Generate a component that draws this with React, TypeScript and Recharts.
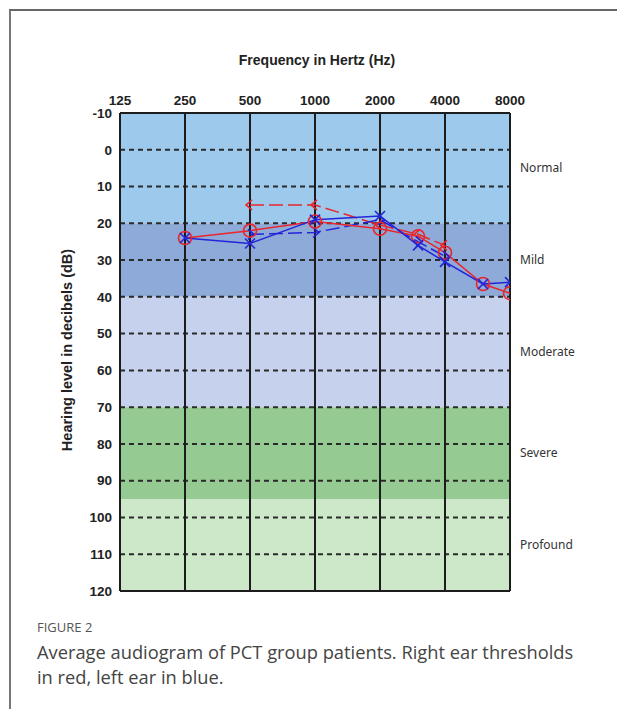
import { LineChart, Line, XAxis, YAxis, ReferenceArea, ReferenceLine } from 'recharts'

// frequencies (Hz) and thresholds (dB HL)
const freqTicks = [125, 250, 500, 1000, 2000, 4000, 8000]
const dbTicks = [-10, 0, 10, 20, 30, 40, 50, 60, 70, 80, 90, 100, 110, 120]
const dashedLevels = [0, 10, 20, 30, 40, 50, 60, 70, 80, 90, 100, 110]

const airFreqs = [250, 500, 1000, 2000, 3000, 4000, 6000, 8000]
const rightAir = [24, 22, 19.5, 21.5, 23.5, 28, 36.5, 39]
const leftAir = [24, 25.5, 19, 18, 26, 30.5, 36.5, 36]

const boneFreqs = [500, 1000, 2000, 3000, 4000]
const rightBone = [15, 15, 20.5, 23, 26]
const leftBone = [23, 22.5, 19, 25, 29]

const zoneNames = ['Normal', 'Mild', 'Moderate', 'Severe', 'Profound']
const zoneFrom = [-10, 20, 40, 70, 95]
const zoneTo = [20, 40, 70, 95, 120]
const zoneColors = ['#9dcaec', '#8eaad9', '#c5d1ed', '#95cb93', '#cce8c8']

const RED = '#e8262c'
const BLUE = '#2424d8'

const toRows = (freqs: number[], vals: number[]) => freqs.map((f, i) => ({ f, db: vals[i] }))

const axisFont = { fontFamily: '"Liberation Sans", Arial, sans-serif', fontWeight: 700, fontSize: 13.5, fill: '#222' }

const Circle = (p: any) => (
    <circle key={p.key} cx={p.cx} cy={p.cy} r={6.5} fill="none" stroke={RED} strokeWidth={1.6} />
)

const Cross = (p: any) => (
    <g key={p.key}>
        <line x1={p.cx - 5} y1={p.cy - 5} x2={p.cx + 5} y2={p.cy + 5} stroke={BLUE} strokeWidth={1.6} />
        <line x1={p.cx - 5} y1={p.cy + 5} x2={p.cx + 5} y2={p.cy - 5} stroke={BLUE} strokeWidth={1.6} />
    </g>
)

const LessThan = (p: any) => (
    <polyline key={p.key} points={`${p.cx + 2},${p.cy - 5} ${p.cx - 4},${p.cy} ${p.cx + 2},${p.cy + 5}`}
        fill="none" stroke={RED} strokeWidth={1.6} />
)

const GreaterThan = (p: any) => (
    <polyline key={p.key} points={`${p.cx - 2},${p.cy - 5} ${p.cx + 4},${p.cy} ${p.cx - 2},${p.cy + 5}`}
        fill="none" stroke={BLUE} strokeWidth={1.6} />
)

export default function App() {
    return (
        <div style={{ position: 'absolute', left: 0, top: 0, width: 617, height: 709, background: '#fff' }}>
            <div style={{ position: 'absolute', left: 9, top: 9, width: 608, height: 700, borderTop: '2px solid #666', borderLeft: '2px solid #777' }} />

            <div style={{ position: 'absolute', left: 0, width: 634, top: 52, textAlign: 'center', ...axisFont, fontSize: 14, color: '#222' }}>
                Frequency in Hertz (Hz)
            </div>

            <div style={{
                position: 'absolute', left: 67, top: 350, transform: 'translate(-50%, -50%) rotate(-90deg)',
                whiteSpace: 'nowrap', ...axisFont, fontSize: 14.5, color: '#222'
            }}>
                Hearing level in decibels (dB)
            </div>

            <div style={{ position: 'absolute', left: 0, top: 0 }}>
                <LineChart width={617} height={600} margin={{ top: 83, right: 107, bottom: 9, left: 70 }}>
                    <XAxis dataKey="f" type="number" scale="log" domain={[125, 8000]} ticks={freqTicks}
                        orientation="top" height={30} axisLine={false} tickLine={false} tickMargin={2}
                        allowDataOverflow tick={axisFont} interval={0} />
                    <YAxis type="number" domain={[-10, 120]} ticks={dbTicks} reversed width={50}
                        axisLine={false} tickLine={false} tickSize={6} tickMargin={2} tick={axisFont} interval={0} />

                    {zoneNames.map((name, i) => (
                        <ReferenceArea key={name} y1={zoneFrom[i]} y2={zoneTo[i]} x1={125} x2={8000}
                            fill={zoneColors[i]} fillOpacity={1} stroke="none"
                            label={{ value: name, position: 'right', offset: 10, fill: '#333', fontSize: 12, fontFamily: '"Noto Sans", sans-serif' }} />
                    ))}

                    {dashedLevels.map(v => (
                        <ReferenceLine key={'h' + v} y={v} stroke="#2a2a2a" strokeWidth={2} strokeDasharray="5 4" />
                    ))}
                    {freqTicks.map(f => (
                        <ReferenceLine key={'v' + f} x={f} stroke="#1c1c1c" strokeWidth={2} />
                    ))}
                    <ReferenceLine y={-10} stroke="#1c1c1c" strokeWidth={2} />
                    <ReferenceLine y={120} stroke="#1c1c1c" strokeWidth={2} />

                    <Line data={toRows(boneFreqs, rightBone)} dataKey="db" stroke={RED} strokeWidth={1.5}
                        strokeDasharray="14 5" dot={LessThan} isAnimationActive={false} />
                    <Line data={toRows(boneFreqs, leftBone)} dataKey="db" stroke={BLUE} strokeWidth={1.5}
                        strokeDasharray="14 5" dot={GreaterThan} isAnimationActive={false} />
                    <Line data={toRows(airFreqs, rightAir)} dataKey="db" stroke={RED} strokeWidth={1.5}
                        dot={Circle} isAnimationActive={false} />
                    <Line data={toRows(airFreqs, leftAir)} dataKey="db" stroke={BLUE} strokeWidth={1.5}
                        dot={Cross} isAnimationActive={false} />
                </LineChart>
            </div>

            <div style={{ position: 'absolute', left: 37, top: 617, width: 552, fontFamily: '"Open Sans", sans-serif', color: '#444' }}>
                <div style={{ fontSize: 13, color: '#555', lineHeight: '20px' }}>FIGURE 2</div>
                <div style={{ fontSize: 18.3, lineHeight: '25px', marginTop: 2 }}>
                    Average audiogram of PCT group patients. Right ear thresholds in red, left ear in blue.
                </div>
            </div>
        </div>
    )
}
